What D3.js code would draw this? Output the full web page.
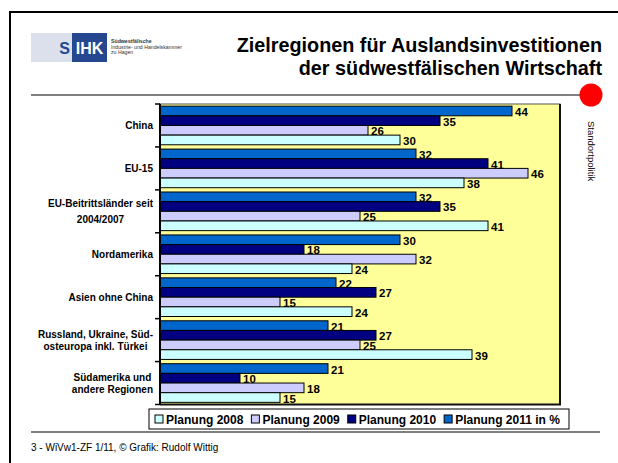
<!DOCTYPE html>
<html>
<head>
<meta charset="utf-8">
<script src="https://cdn.jsdelivr.net/npm/d3@7"></script>
<style>
  html, body { margin: 0; padding: 0; background: #fff; }
  svg { display: block; font-family: "Liberation Sans", Arial, sans-serif; }
</style>
</head>
<body>
<svg id="chart" width="618" height="463"></svg>
<script>
// ---- data ----
const categories = [
  "China",
  "EU-15",
  "EU-Beitrittsländer seit\n2004/2007",
  "Nordamerika",
  "Asien ohne China",
  "Russland, Ukraine, Süd-\nosteuropa inkl. Türkei",
  "Südamerika und\nandere Regionen"
];
const seriesNames = ["Planung 2008", "Planung 2009", "Planung 2010", "Planung 2011 in %"];
const values2008 = [30, 38, 41, 24, 24, 39, 15];
const values2009 = [26, 46, 25, 32, 15, 25, 18];
const values2010 = [35, 41, 35, 18, 27, 27, 10];
const values2011 = [44, 32, 32, 30, 22, 21, 21];
const xTicks = [0, 50];
const seriesColors = ["#CCFFFF", "#CCCCFF", "#000080", "#0066CC"];
const titleLines = ["Zielregionen für Auslandsinvestitionen", "der südwestfälischen Wirtschaft"];
const footerText = "3 - WiVw1-ZF 1/11, © Grafik: Rudolf Wittig";
const sideText = "Standortpolitik";

const seriesValues = [values2008, values2009, values2010, values2011];

const svg = d3.select("#chart");

// ---- page frame ----
svg.append("path")
  .attr("d", "M10,463 L10,12 L618,12")
  .attr("fill", "none").attr("stroke", "#000").attr("stroke-width", 2);

// logo
const logo = svg.append("g");
logo.append("rect").attr("x", 31).attr("y", 33).attr("width", 76).attr("height", 29).attr("fill", "#DCE0EC");
logo.append("rect").attr("x", 72).attr("y", 33).attr("width", 35).attr("height", 29).attr("fill", "#24478F");
logo.append("text").attr("x", 70).attr("y", 53.5).attr("text-anchor", "end")
  .attr("font-size", 16).attr("font-weight", "bold").attr("fill", "#24478F").text("S");
logo.append("text").attr("x", 89.5).attr("y", 53.5).attr("text-anchor", "middle")
  .attr("font-size", 16).attr("font-weight", "bold").attr("fill", "#fff").text("IHK");
const logoLines = ["Südwestfälische", "Industrie- und Handelskammer", "zu Hagen"];
logo.selectAll("text.ll").data(logoLines).join("text").attr("class", "ll")
  .attr("x", 111).attr("y", (d, i) => 43 + i * 5.5)
  .attr("font-size", 5.2).attr("fill", "#333").attr("font-weight", (d, i) => i === 0 ? "bold" : "normal")
  .text(d => d);

// title
svg.selectAll("text.title").data(titleLines).join("text").attr("class", "title")
  .attr("x", 602).attr("y", (d, i) => 52 + i * 23)
  .attr("text-anchor", "end").attr("font-size", 19.8).attr("font-weight", "bold").attr("fill", "#000")
  .text(d => d);

// header rule + red dot
svg.append("line").attr("x1", 31).attr("x2", 580).attr("y1", 95).attr("y2", 95)
  .attr("stroke", "#7F7F7F").attr("stroke-width", 2);
svg.append("circle").attr("cx", 591).attr("cy", 95).attr("r", 11.5).attr("fill", "#FF0000");

// side text
svg.append("text").attr("transform", "translate(588,121) rotate(90)")
  .attr("font-size", 9.5).attr("fill", "#000").text(sideText);

// footer
svg.append("line").attr("x1", 31).attr("x2", 600).attr("y1", 432).attr("y2", 432)
  .attr("stroke", "#7F7F7F").attr("stroke-width", 2);
svg.append("text").attr("x", 31).attr("y", 451).attr("font-size", 10).attr("fill", "#000").text(footerText);

// ---- chart ----
const plot = { left: 160, right: 560, top: 104, bottom: 404.5 };
const x = d3.scaleLinear().domain(d3.extent(xTicks)).range([plot.left, plot.right]);
const y = d3.scaleBand().domain(categories).range([plot.top, plot.bottom]).paddingInner(0.1).paddingOuter(0.05);
// series order top-to-bottom: 2011, 2010, 2009, 2008
const ySub = d3.scaleBand().domain([3, 2, 1, 0]).range([0, y.bandwidth()]);

svg.append("rect").attr("x", plot.left).attr("y", plot.top)
  .attr("width", plot.right - plot.left).attr("height", plot.bottom - plot.top)
  .attr("fill", "#FFFF99").attr("stroke", "#555").attr("stroke-width", 1);
// darker right/bottom edges
svg.append("path").attr("d", `M${plot.right},${plot.top} L${plot.right},${plot.bottom} L${plot.left},${plot.bottom}`)
  .attr("fill", "none").attr("stroke", "#111").attr("stroke-width", 2);

const groups = svg.selectAll("g.cat").data(categories).join("g").attr("class", "cat")
  .attr("transform", d => `translate(0,${y(d)})`);

groups.each(function (cat, ci) {
  const g = d3.select(this);
  const rows = [3, 2, 1, 0].map(si => ({ si, v: seriesValues[si][ci] }));
  g.selectAll("rect").data(rows).join("rect")
    .attr("x", x(0)).attr("y", d => ySub(d.si))
    .attr("width", d => x(d.v) - x(0)).attr("height", ySub.bandwidth())
    .attr("fill", d => seriesColors[d.si]).attr("stroke", "#000").attr("stroke-width", 1);
  g.selectAll("text").data(rows).join("text")
    .attr("x", d => x(d.v) + 3).attr("y", d => ySub(d.si) + ySub.bandwidth() / 2 + 5)
    .attr("font-size", 11.5).attr("font-weight", "bold").attr("fill", "#000")
    .text(d => d.v);
});

// y axis
const step = y.step();
const pad = step * y.paddingInner() / 2;
const boundaries = categories.map(c => y(c) - pad).concat([y(categories[categories.length - 1]) + y.bandwidth() + pad]);
svg.selectAll("line.tick").data(boundaries).join("line").attr("class", "tick")
  .attr("x1", plot.left - 5).attr("x2", plot.left).attr("y1", d => d).attr("y2", d => d)
  .attr("stroke", "#000").attr("stroke-width", 1.5);
svg.append("line").attr("x1", plot.left).attr("x2", plot.left).attr("y1", plot.top).attr("y2", plot.bottom)
  .attr("stroke", "#000").attr("stroke-width", 2);

// category labels: block right-aligned, lines centred within block
const labelRight = 153;
categories.forEach(cat => {
  const lines = cat.split("\n");
  const lh = lines.length > 1 && cat.startsWith("EU-Beitritt") ? 16 : 12;
  const cy = y(cat) + y.bandwidth() / 2;
  const g = svg.append("g");
  const texts = g.selectAll("text").data(lines).join("text")
    .attr("y", (d, i) => cy + (i - (lines.length - 1) / 2) * lh + 3.5)
    .attr("font-size", 10).attr("font-weight", "bold").attr("fill", "#000")
    .attr("text-anchor", "middle").text(d => d);
  let maxW = 0;
  texts.each(function () { maxW = Math.max(maxW, this.getComputedTextLength()); });
  texts.attr("x", labelRight - maxW / 2);
});

// legend
const legend = svg.append("g");
legend.append("rect").attr("x", 149).attr("y", 409).attr("width", 420).attr("height", 20)
  .attr("fill", "#fff").attr("stroke", "#000").attr("stroke-width", 1);
let lx = 155;
seriesNames.forEach((name, i) => {
  legend.append("rect").attr("x", lx).attr("y", 415).attr("width", 8).attr("height", 8)
    .attr("fill", seriesColors[i]).attr("stroke", "#000").attr("stroke-width", 1);
  const t = legend.append("text").attr("x", lx + 11).attr("y", 423.5)
    .attr("font-size", 12).attr("font-weight", "bold").attr("fill", "#000").text(name);
  lx += 11 + t.node().getComputedTextLength() + 8;
});
</script>
</body>
</html>
